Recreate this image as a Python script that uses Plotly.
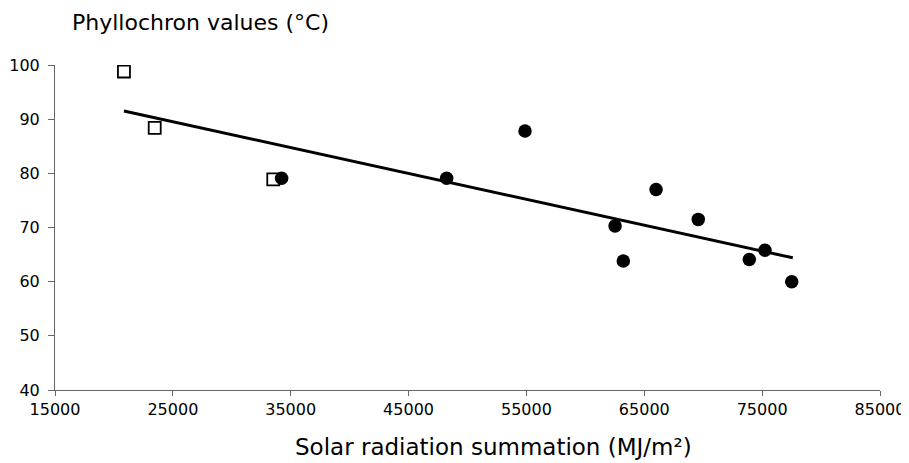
import plotly.graph_objects as go

# Data
square_x = [20850, 23460, 33520]
square_y = [98.8, 88.4, 78.9]

circle_x = [34230, 48230, 54880, 62520, 63220, 66000, 69580, 73910, 75240, 77510]
circle_y = [79.1, 79.1, 87.8, 70.3, 63.8, 77.0, 71.5, 64.1, 65.8, 60.0]

trend_x = [20850, 77600]
trend_y = [91.5, 64.4]

x_ticks = [15000, 25000, 35000, 45000, 55000, 65000, 75000, 85000]
y_ticks = [40, 50, 60, 70, 80, 90, 100]

FONT = "DejaVu Sans"

fig = go.Figure()
fig.add_trace(go.Scatter(
    x=trend_x, y=trend_y, mode="lines",
    line=dict(color="black", width=3), showlegend=False, hoverinfo="skip"))
fig.add_trace(go.Scatter(
    x=square_x, y=square_y, mode="markers",
    marker=dict(symbol="square-open", size=12, color="black", line=dict(width=1.8, color="black")),
    showlegend=False))
fig.add_trace(go.Scatter(
    x=circle_x, y=circle_y, mode="markers",
    marker=dict(symbol="circle", size=13.5, color="black"),
    showlegend=False))

# the page body adds an 8px margin, so the figure is sized to fit the 909x463 window
fig.update_layout(
    width=901, height=455,
    margin=dict(l=47, r=29, t=57, b=73, autoexpand=False),
    paper_bgcolor="white", plot_bgcolor="white",
    font=dict(family=FONT, color="black", size=16),
    xaxis=dict(
        range=[15000, 85000], tickvals=x_ticks, ticktext=[str(v) for v in x_ticks],
        showgrid=False, zeroline=False, showline=True, linecolor="#666", linewidth=1,
        ticks="outside", ticklen=5, tickcolor="#666", tickfont=dict(size=16, family=FONT),
        automargin=False,
    ),
    yaxis=dict(
        range=[40, 100], tickvals=y_ticks, ticktext=[str(v) for v in y_ticks],
        showgrid=False, zeroline=False, showline=True, linecolor="#666", linewidth=1,
        ticks="outside", ticklen=6, tickcolor="#666", tickfont=dict(size=16, family=FONT),
        ticklabelstandoff=5, automargin=False,
    ),
    annotations=[
        dict(text="Phyllochron values (°C)", xref="paper", yref="paper",
             x=0.018, y=1.13, xanchor="left", yanchor="middle", showarrow=False,
             font=dict(size=22, family=FONT, color="black")),
        dict(text="Solar radiation summation (MJ/m²)", xref="paper", yref="paper",
             x=0.532, y=-0.175, xanchor="center", yanchor="middle", showarrow=False,
             font=dict(size=23, family=FONT, color="black")),
    ],
)

fig.write_html("out.html")
